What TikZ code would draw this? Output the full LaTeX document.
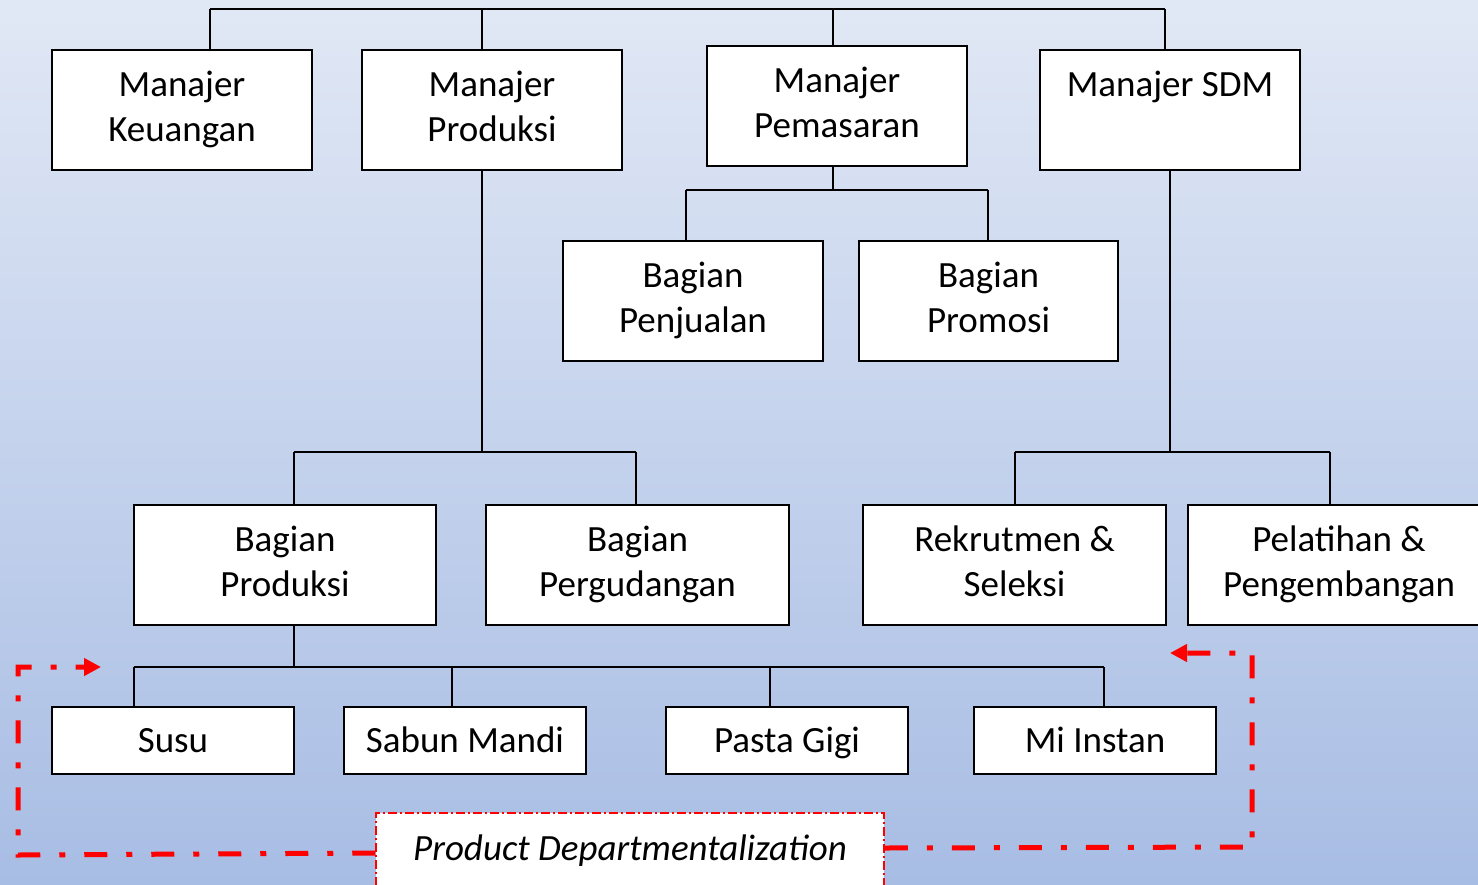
\documentclass[tikz,border=0pt]{standalone}
\usepackage{fontspec}
\setmainfont{Carlito}
\usetikzlibrary{arrows.meta}
\definecolor{bgtop}{RGB}{225,232,245}
\definecolor{bgbot}{RGB}{168,189,228}
\definecolor{pdred}{RGB}{255,0,0}
\tikzset{
  box/.style={draw=black, line width=2pt, fill=white, inner sep=0pt, align=center,
    font=\fontsize{37}{45}\selectfont},
  prodbox/.style={box, minimum width=242pt, minimum height=67pt, text height=30pt, text depth=7pt},
  conn/.style={draw=black, line width=2pt},
  redpath/.style={draw=pdred, line width=5pt, dash pattern=on 23pt off 19pt on 6pt off 19pt},
  pdbox/.style={draw=pdred, line width=1.5pt, dash pattern=on 9pt off 3pt on 2pt off 3pt,
    fill=white, inner sep=0pt, font=\fontsize{37}{45}\selectfont\itshape},
  redtip/.style={-{Triangle[length=17pt,width=17pt]}}
}
\begin{document}
\begin{tikzpicture}[x=1pt,y=-1pt]
\useasboundingbox (0,0) rectangle (1478,884);
\clip (0,0) rectangle (1478,884);
\shade[top color=bgtop, bottom color=bgbot] (0,0) rectangle (1478,884);

% top level
\node[box, minimum width=260pt, minimum height=120pt] (mk) at (182,110) {\strut Manajer\\\strut Keuangan};
\node[box, minimum width=260pt, minimum height=120pt] (mp) at (492,110) {\strut Manajer\\\strut Produksi};
\node[box, minimum width=260pt, minimum height=120pt] (mm) at (837,106) {\strut Manajer\\\strut Pemasaran};
\node[box, minimum width=260pt, minimum height=120pt] (ms) at (1170,110) {\strut Manajer SDM\\\strut};

% second level (pemasaran)
\node[box, minimum width=260pt, minimum height=120pt] (bj) at (693,301) {\strut Bagian\\\strut Penjualan};
\node[box, minimum width=259pt, minimum height=120pt] (bm) at (988.5,301) {\strut Bagian\\\strut Promosi};

% third level
\node[box, minimum width=302pt, minimum height=120pt] (bp) at (285,565) {\strut Bagian\\\strut Produksi};
\node[box, minimum width=303pt, minimum height=120pt] (bg) at (637.5,565) {\strut Bagian\\\strut Pergudangan};
\node[box, minimum width=303pt, minimum height=120pt] (rs) at (1014.5,565) {\strut Rekrutmen \&\\\strut Seleksi};
\node[box, minimum width=302pt, minimum height=120pt] (pl) at (1339,565) {\strut Pelatihan \&\\\strut Pengembangan};

% products
\node[prodbox] (su) at (173,740.5) {Susu};
\node[prodbox] (sm) at (465,740.5) {Sabun Mandi};
\node[prodbox] (pg) at (787,740.5) {Pasta Gigi};
\node[prodbox] (mi) at (1095,740.5) {Mi Instan};

% label
\node[pdbox, minimum width=508pt, minimum height=76pt] (pd) at (630,851) {\strut Product Departmentalization};

% bus coordinates
\coordinate (t1) at (210,9);
\coordinate (t2) at (482,9);
\coordinate (t3) at (833,9);
\coordinate (t4) at (1165,9);
\draw[conn] (t1) -- (t4);
\draw[conn] (t1) -- (t1 |- mk.north);
\draw[conn] (t2) -- (t2 |- mp.north);
\draw[conn] (t3) -- (t3 |- mm.north);
\draw[conn] (t4) -- (t4 |- ms.north);

% pemasaran
\coordinate (m0) at (833,190);
\coordinate (m1) at (686,190);
\coordinate (m2) at (988,190);
\draw[conn] (m0 |- mm.south) -- (m0);
\draw[conn] (m1) -- (m2);
\draw[conn] (m1) -- (m1 |- bj.north);
\draw[conn] (m2) -- (m2 |- bm.north);

% produksi
\coordinate (p0) at (482,452);
\coordinate (p1) at (294,452);
\coordinate (p2) at (636,452);
\draw[conn] (p0 |- mp.south) -- (p0);
\draw[conn] (p1) -- (p2);
\draw[conn] (p1) -- (p1 |- bp.north);
\draw[conn] (p2) -- (p2 |- bg.north);

% sdm
\coordinate (s0) at (1170,452);
\coordinate (s1) at (1015,452);
\coordinate (s2) at (1330,452);
\draw[conn] (s0 |- ms.south) -- (s0);
\draw[conn] (s1) -- (s2);
\draw[conn] (s1) -- (s1 |- rs.north);
\draw[conn] (s2) -- (s2 |- pl.north);

% products bus
\coordinate (q0) at (294,667);
\coordinate (q1) at (134,667);
\coordinate (q2) at (452,667);
\coordinate (q3) at (770,667);
\coordinate (q4) at (1104,667);
\draw[conn] (q0 |- bp.south) -- (q0);
\draw[conn] (q1) -- (q4);
\draw[conn] (q1) -- (q1 |- su.north);
\draw[conn] (q2) -- (q2 |- sm.north);
\draw[conn] (q3) -- (q3 |- pg.north);
\draw[conn] (q4) -- (q4 |- mi.north);

% red dash-dot arrows
\coordinate (lb) at (18,855);
\coordinate (lc) at (18,667);
\coordinate (la) at (101,667);
\coordinate (rb) at (1252,847);
\coordinate (rc) at (1252,653);
\coordinate (ra) at (1170,653);
\draw[redpath, redtip] ([yshift=-2pt]pd.west) -- (lb) -- (lc) -- (la);
\draw[redpath, redtip] ([yshift=3pt]pd.east) -- (rb) -- (rc) -- (ra);
\end{tikzpicture}
\end{document}
